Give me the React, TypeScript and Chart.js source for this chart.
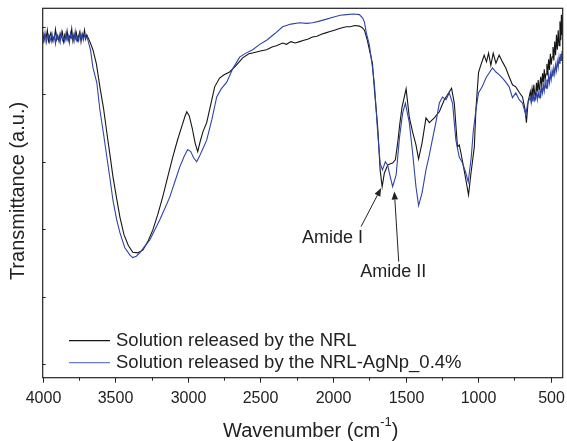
import React, { useEffect, useRef } from "react";
import { Chart, registerables } from "chart.js";

Chart.register(...registerables);

// ---- Data (wavenumber in cm^-1, transmittance in arbitrary units) ----
// Solution released by the NRL (black)
const nrlPlateauWn = [
  4000, 3992, 3984, 3976, 3968, 3960, 3952, 3944, 3936, 3928, 3920, 3912, 3904, 3896, 3888, 3880,
  3872, 3864, 3856, 3848, 3840, 3832, 3824, 3816, 3808, 3800, 3792, 3784, 3776, 3768, 3760, 3752,
  3744, 3736, 3728, 3720, 3712, 3704, 3696, 3688,
];
const nrlPlateauVal = [
  4.93, 4.80, 4.88, 4.84, 4.95, 4.79, 4.86, 4.91, 4.78, 4.85, 4.83, 4.96, 4.81, 4.87, 4.79, 4.90,
  4.85, 4.92, 4.78, 4.88, 4.82, 4.94, 4.80, 4.86, 4.84, 4.97, 4.79, 4.89, 4.83, 4.91, 4.80, 4.87,
  4.93, 4.78, 4.90, 4.84, 4.95, 4.82, 4.88, 4.84,
];
const nrlBodyWn = [
  3675, 3654, 3630, 3606, 3580, 3558, 3535, 3516, 3490, 3468, 3440, 3410, 3379, 3345, 3310, 3275,
  3241, 3207, 3173, 3138, 3104, 3070, 3042, 3020, 3007, 2990, 2970, 2950, 2932, 2915, 2895, 2870,
  2845, 2815, 2781, 2750, 2712, 2670, 2622, 2580, 2540, 2500, 2457, 2420, 2390, 2347, 2320, 2290,
  2260, 2230, 2200, 2170, 2141, 2110, 2080, 2050, 2020, 1990, 1960, 1930, 1907, 1880, 1850, 1818,
  1800, 1783, 1763, 1745, 1728, 1714, 1700, 1692, 1675, 1661, 1646, 1623, 1605, 1589, 1570, 1554,
  1540, 1524, 1496, 1474, 1451, 1428, 1410, 1386, 1359, 1336, 1302, 1267, 1233, 1203, 1183, 1164,
  1142, 1130, 1118, 1100, 1084, 1066, 1049, 1026, 1015, 997, 983, 970, 958, 942, 928, 912,
  896, 877, 855, 832, 809, 786, 763, 740, 717, 694, 676, 667, 655, 648,
];
const nrlBodyVal = [
  4.78, 4.66, 4.45, 4.11, 3.78, 3.43, 3.08, 2.78, 2.45, 2.18, 1.92, 1.76, 1.66, 1.65, 1.69, 1.82,
  1.99, 2.22, 2.48, 2.78, 3.07, 3.33, 3.52, 3.67, 3.74, 3.68, 3.50, 3.28, 3.15, 3.30, 3.45, 3.58,
  3.82, 4.11, 4.24, 4.29, 4.33, 4.42, 4.54, 4.60, 4.62, 4.64, 4.66, 4.70, 4.72, 4.76, 4.74, 4.78,
  4.76, 4.78, 4.80, 4.82, 4.85, 4.86, 4.89, 4.91, 4.93, 4.95, 4.97, 4.99, 5.00, 5.00, 5.02, 5.01,
  4.99, 4.95, 4.80, 4.62, 4.46, 4.06, 3.72, 3.52, 2.88, 2.63, 2.83, 2.95, 2.97, 2.98, 3.03, 3.28,
  3.55, 3.81, 4.08, 3.66, 3.44, 3.25, 3.04, 3.28, 3.65, 3.58, 3.65, 3.74, 3.92, 4.02, 4.09, 3.87,
  3.22, 3.25, 3.13, 2.92, 2.73, 2.51, 2.83, 3.22, 3.77, 4.32, 4.42, 4.50, 4.58, 4.48, 4.61, 4.43,
  4.61, 4.46, 4.58, 4.48, 4.39, 4.26, 4.14, 4.11, 4.03, 3.96, 3.77, 3.58, 3.90, 3.96,
];
const nrlTailWn = [
  640, 634, 628, 622, 616, 610, 604, 598, 592, 586, 580, 574, 568, 562, 556, 550,
  544, 538, 532, 526, 520, 514, 508, 502, 496, 490, 484, 478, 472, 466, 460, 454,
  448, 442, 436, 430, 426, 422, 418,
];
const nrlTailVal = [
  4.04, 3.93, 4.08, 3.97, 4.14, 4.01, 3.95, 4.17, 4.04, 4.21, 4.07, 4.15, 4.26, 4.10, 4.31, 4.18,
  4.37, 4.22, 4.30, 4.45, 4.28, 4.52, 4.36, 4.60, 4.44, 4.55, 4.70, 4.50, 4.78, 4.58, 4.88, 4.66,
  4.95, 4.72, 5.08, 4.80, 5.18, 4.88, 5.05,
];

// Solution released by the NRL-AgNp_0.4% (blue)
const agPlateauWn = [
  4000, 3992, 3984, 3976, 3968, 3960, 3952, 3944, 3936, 3928, 3920, 3912, 3904, 3896, 3888, 3880,
  3872, 3864, 3856, 3848, 3840, 3832, 3824, 3816, 3808, 3800, 3792, 3784, 3776, 3768, 3760, 3752,
  3744, 3736, 3728, 3720, 3712, 3704, 3696, 3688,
];
const agPlateauVal = [
  4.86, 4.78, 4.91, 4.76, 4.84, 4.88, 4.77, 4.83, 4.90, 4.79, 4.86, 4.75, 4.89, 4.82, 4.85, 4.77,
  4.92, 4.80, 4.84, 4.78, 4.90, 4.81, 4.87, 4.76, 4.91, 4.83, 4.86, 4.78, 4.93, 4.80, 4.85, 4.79,
  4.90, 4.82, 4.87, 4.80, 4.88, 4.83, 4.85, 4.80,
];
const agBodyWn = [
  3670, 3654, 3627, 3606, 3580, 3558, 3535, 3516, 3490, 3468, 3435, 3400, 3379, 3355, 3331, 3300,
  3262, 3230, 3193, 3160, 3124, 3090, 3056, 3025, 3001, 2980, 2960, 2939, 2920, 2895, 2870, 2835,
  2801, 2770, 2732, 2690, 2643, 2600, 2553, 2505, 2457, 2400, 2347, 2290, 2230, 2180, 2141, 2100,
  2050, 2000, 1950, 1907, 1860, 1818, 1795, 1783, 1770, 1749, 1728, 1714, 1694, 1675, 1659, 1639,
  1623, 1611, 1589, 1565, 1542, 1520, 1501, 1474, 1451, 1428, 1410, 1386, 1359, 1336, 1313, 1290,
  1267, 1245, 1221, 1199, 1176, 1153, 1130, 1107, 1084, 1068, 1047, 1034, 1015, 997, 972, 946,
  923, 901, 877, 855, 832, 809, 786, 763, 740, 717, 694, 671, 660, 648,
];
const agBodyVal = [
  4.65, 4.40, 4.17, 3.77, 3.40, 3.07, 2.73, 2.43, 2.14, 1.95, 1.73, 1.62, 1.58, 1.60, 1.65, 1.74,
  1.84, 1.98, 2.14, 2.30, 2.48, 2.70, 2.92, 3.08, 3.18, 3.15, 3.06, 3.00, 3.08, 3.20, 3.32, 3.62,
  3.96, 4.08, 4.18, 4.38, 4.55, 4.61, 4.66, 4.74, 4.80, 4.90, 5.00, 5.04, 5.06, 5.05, 5.06, 5.08,
  5.11, 5.14, 5.17, 5.18, 5.19, 5.18, 5.13, 5.07, 4.91, 4.73, 4.40, 4.14, 3.50, 2.98, 2.88, 3.00,
  2.95, 2.83, 2.63, 2.80, 3.35, 3.72, 3.87, 3.58, 3.13, 2.63, 2.35, 2.54, 2.88, 3.10, 3.35, 3.59,
  3.87, 3.96, 3.92, 4.02, 3.87, 3.32, 3.07, 2.98, 2.83, 2.70, 3.07, 3.43, 3.77, 4.02, 4.11, 4.24,
  4.32, 4.39, 4.33, 4.29, 4.24, 4.18, 4.11, 3.95, 4.02, 3.92, 3.87, 3.69, 3.85, 3.92,
];
const agTailWn = [
  640, 634, 628, 622, 616, 610, 604, 598, 592, 586, 580, 574, 568, 562, 556, 550,
  544, 538, 532, 526, 520, 514, 508, 502, 496, 490, 484, 478, 472, 466, 460, 454,
  448, 442, 436, 430, 426, 422, 418,
];
const agTailVal = [
  3.95, 3.87, 3.97, 3.89, 3.99, 3.91, 3.96, 4.01, 3.92, 4.04, 3.95, 4.07, 3.98, 4.10, 4.02, 4.14,
  4.05, 4.18, 4.09, 4.22, 4.13, 4.27, 4.17, 4.31, 4.22, 4.35, 4.26, 4.39, 4.30, 4.44, 4.35, 4.49,
  4.40, 4.55, 4.45, 4.60, 4.50, 4.64, 4.58,
];

const seriesLabels = ["Solution released by the NRL", "Solution released by the NRL-AgNp_0.4%"];
const xTickValues = [4000, 3750, 3500, 3250, 3000, 2750, 2500, 2250, 2000, 1750, 1500, 1250, 1000, 750, 500];
const xTickLabels = ["4000", "", "3500", "", "3000", "", "2500", "", "2000", "", "1500", "", "1000", "", "500"];
const yTickValues = [0, 1, 2, 3, 4, 5];
const annotationTexts = ["Amide I", "Amide II"];
const annotationTextAt = [[2003, 1.87], [1584, 1.37]];
const arrowTails = [[1806, 2.04], [1547, 1.52]];
const arrowTips = [[1668, 2.61], [1577, 2.56]];

const FONT = "'Liberation Sans', Arial, Helvetica, sans-serif";
const BLACK = "#151515";
const BLUE = "#2f44a6";
const LEGEND_BLUE = "#6a7cc4";

const toPoints = (xs: number[], ys: number[]) => xs.map((x, i) => ({ x, y: ys[i] }));

const decorPlugin = {
  id: "decor",
  afterDraw(chart: any) {
    const { ctx, chartArea } = chart;
    const { left, right, top, bottom } = chartArea;
    const xs = chart.scales.x;
    const ys = chart.scales.y;
    ctx.save();
    // frame
    ctx.strokeStyle = "#222";
    ctx.lineWidth = 1.2;
    ctx.strokeRect(left, top, right - left, bottom - top);
    // x ticks
    ctx.lineWidth = 1;
    ctx.fillStyle = "#222";
    ctx.font = `16px ${FONT}`;
    ctx.textAlign = "center";
    ctx.textBaseline = "middle";
    xTickValues.forEach((v, i) => {
      const px = Math.round(xs.getPixelForValue(v)) + 0.5;
      const major = xTickLabels[i] !== "";
      ctx.beginPath();
      ctx.moveTo(px, bottom);
      ctx.lineTo(px, bottom + (major ? 5 : 3));
      ctx.stroke();
      if (major) ctx.fillText(xTickLabels[i], px, 399);
    });
    // y ticks (inward)
    yTickValues.forEach((v) => {
      const py = Math.round(ys.getPixelForValue(v)) + 0.5;
      ctx.beginPath();
      ctx.moveTo(left, py);
      ctx.lineTo(left + 3, py);
      ctx.stroke();
    });
    // x title with superscript
    const main = "Wavenumber (cm";
    const sup = "-1";
    const close = ")";
    ctx.font = `20px ${FONT}`;
    const w1 = ctx.measureText(main).width;
    const w3 = ctx.measureText(close).width;
    ctx.font = `13px ${FONT}`;
    const w2 = ctx.measureText(sup).width;
    const total = w1 + w2 + w3;
    const sx = (left + right) / 2 + 8 - total / 2;
    ctx.textAlign = "left";
    ctx.textBaseline = "alphabetic";
    ctx.font = `20px ${FONT}`;
    ctx.fillText(main, sx, 437);
    ctx.font = `13px ${FONT}`;
    ctx.fillText(sup, sx + w1, 426);
    ctx.font = `20px ${FONT}`;
    ctx.fillText(close, sx + w1 + w2, 437);
    // y title
    ctx.save();
    ctx.translate(18, (top + bottom) / 2 - 2);
    ctx.rotate(-Math.PI / 2);
    ctx.textAlign = "center";
    ctx.textBaseline = "middle";
    ctx.font = `20px ${FONT}`;
    ctx.fillText("Transmittance (a.u.)", 0, 0);
    ctx.restore();
    // legend
    const legendColors = [BLACK, LEGEND_BLUE];
    const legendY = [340.7, 362.7];
    ctx.font = `18.5px ${FONT}`;
    ctx.textAlign = "left";
    ctx.textBaseline = "middle";
    seriesLabels.forEach((lab, i) => {
      ctx.strokeStyle = legendColors[i];
      ctx.lineWidth = 1.2;
      ctx.beginPath();
      ctx.moveTo(69, legendY[i]);
      ctx.lineTo(110, legendY[i]);
      ctx.stroke();
      ctx.fillStyle = "#222";
      ctx.fillText(lab, 116, legendY[i] + 0.5);
    });
    // annotations
    ctx.font = `18px ${FONT}`;
    ctx.textAlign = "center";
    ctx.textBaseline = "middle";
    ctx.fillStyle = "#222";
    ctx.strokeStyle = "#222";
    annotationTexts.forEach((t, i) => {
      const tx = xs.getPixelForValue(annotationTextAt[i][0]);
      const ty = ys.getPixelForValue(annotationTextAt[i][1]);
      ctx.fillText(t, tx, ty);
      const ax = xs.getPixelForValue(arrowTails[i][0]);
      const ay = ys.getPixelForValue(arrowTails[i][1]);
      const bx = xs.getPixelForValue(arrowTips[i][0]);
      const by = ys.getPixelForValue(arrowTips[i][1]);
      const ang = Math.atan2(by - ay, bx - ax);
      const hl = 8;
      const hw = 3.2;
      const baseX = bx - hl * Math.cos(ang);
      const baseY = by - hl * Math.sin(ang);
      ctx.lineWidth = 1;
      ctx.beginPath();
      ctx.moveTo(ax, ay);
      ctx.lineTo(baseX, baseY);
      ctx.stroke();
      ctx.beginPath();
      ctx.moveTo(bx, by);
      ctx.lineTo(baseX + hw * Math.sin(ang), baseY - hw * Math.cos(ang));
      ctx.lineTo(baseX - hw * Math.sin(ang), baseY + hw * Math.cos(ang));
      ctx.closePath();
      ctx.fill();
    });
    ctx.restore();
  },
};

export default function App() {
  const canvasRef = useRef<HTMLCanvasElement | null>(null);
  useEffect(() => {
    if (!canvasRef.current) return;
    const nrlPoints = [
      ...toPoints(nrlPlateauWn, nrlPlateauVal),
      ...toPoints(nrlBodyWn, nrlBodyVal),
      ...toPoints(nrlTailWn, nrlTailVal),
    ];
    const agPoints = [
      ...toPoints(agPlateauWn, agPlateauVal),
      ...toPoints(agBodyWn, agBodyVal),
      ...toPoints(agTailWn, agTailVal),
    ];
    const chart = new Chart(canvasRef.current, {
      type: "line",
      data: {
        datasets: [
          {
            label: seriesLabels[0],
            data: nrlPoints,
            borderColor: BLACK,
            borderWidth: 1.1,
            pointRadius: 0,
            tension: 0,
            order: 2,
          },
          {
            label: seriesLabels[1],
            data: agPoints,
            borderColor: BLUE,
            borderWidth: 1.1,
            pointRadius: 0,
            tension: 0,
            order: 1,
          },
        ],
      },
      options: {
        responsive: false,
        animation: false,
        devicePixelRatio: 1,
        layout: { padding: { left: 42.7, top: 8.3, right: 4.3, bottom: 63.3 } },
        plugins: { legend: { display: false }, tooltip: { enabled: false } },
        events: [],
        scales: {
          x: { type: "linear", reverse: true, min: 417, max: 4000, display: false },
          y: { type: "linear", min: -0.2, max: 5.274, display: false },
        },
      },
      plugins: [decorPlugin],
    });
    return () => chart.destroy();
  }, []);
  return (
    <div style={{ position: "absolute", left: 0, top: 0, width: 567, height: 441, background: "#fff" }}>
      <canvas ref={canvasRef} width={567} height={441} style={{ width: 567, height: 441, display: "block" }} />
    </div>
  );
}
